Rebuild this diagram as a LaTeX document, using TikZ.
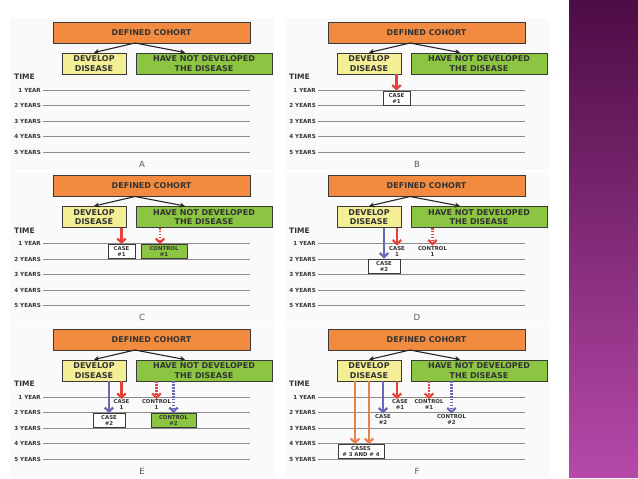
\documentclass[tikz,border=0pt]{standalone}
\usepackage{fontspec}
\setmainfont{DejaVu Sans}
\usepackage{tikz}
\usetikzlibrary{arrows.meta,positioning}
\definecolor{cohortorange}{HTML}{F28B3F}
\definecolor{devyellow}{HTML}{F4EE97}
\definecolor{nodevgreen}{HTML}{8BC541}
\definecolor{boxline}{HTML}{3A3A3A}
\definecolor{txtdark}{HTML}{333333}
\definecolor{linegray}{HTML}{8C8C8C}
\definecolor{panelbg}{HTML}{FAFAFA}
\definecolor{casered}{HTML}{E5403A}
\definecolor{caseblue}{HTML}{6767B4}
\definecolor{caseorange}{HTML}{E8804A}
\definecolor{plumtop}{HTML}{4D0C45}
\definecolor{plumbottom}{HTML}{B649A9}

\tikzset{
  hdrbox/.style={draw=boxline, line width=0.9pt, minimum height=21pt, inner sep=0pt,
    align=center, text=txtdark, font=\bfseries\fontsize{8}{9.5}\selectfont},
  cohortbox/.style={hdrbox, fill=cohortorange, minimum width=197pt},
  devbox/.style={hdrbox, fill=devyellow, minimum width=64pt},
  nodevbox/.style={hdrbox, fill=nodevgreen, minimum width=136pt},
  splitarr/.style={-{Stealth[length=5pt,width=5pt]}, line width=1.1pt, draw=black!85},
  timelbl/.style={anchor=west, inner sep=0pt, text=txtdark, font=\bfseries\fontsize{7.5}{8}\selectfont},
  yearlbl/.style={anchor=east, inner sep=0pt, text=txtdark, font=\bfseries\fontsize{5.6}{6}\selectfont},
  yearline/.style={draw=linegray, line width=0.7pt},
  panelletter/.style={text=black!65, font=\fontsize{8.5}{9}\selectfont},
  smallbox/.style={draw=boxline, line width=0.9pt, inner sep=0pt, minimum height=14pt,
    align=center, text=txtdark, font=\bfseries\fontsize{5.4}{6}\selectfont},
  casebox/.style={smallbox, fill=white},
  controlbox/.style={smallbox, fill=nodevgreen},
  smalllbl/.style={anchor=north, inner sep=0.5pt, align=center, text=txtdark,
    font=\bfseries\fontsize{5.4}{6}\selectfont},
  redarr/.style={-{Straight Barb[length=4pt,width=8.5pt]}, line width=2.2pt, draw=casered},
  bluearr/.style={redarr, draw=caseblue},
  orangearr/.style={redarr, draw=caseorange},
  dotarr/.style={dash pattern=on 1.6pt off 1.3pt}
}

\newcommand{\cohortpanel}[3]{%
\begin{scope}[shift={(#2,#3)}]
  \fill[panelbg] (10,18) rectangle (274,170);
  \node[cohortbox] (#1coh) at (151.5,32.5) {DEFINED COHORT};
  \node[devbox] (#1dev) at (94,63.5) {DEVELOP\\DISEASE};
  \node[nodevbox] (#1hnd) at (204,63.5) {HAVE NOT DEVELOPED\\THE DISEASE};
  \coordinate (#1fork) at (135,43);
  \draw[splitarr] (#1fork) -- (#1dev.north);
  \draw[splitarr] (#1fork) -- ([xshift=-19pt]#1hnd.north);
  \node[timelbl] (#1time) at (14,77) {TIME};
  \foreach \yr/\yrtext [count=\i] in {90/1 YEAR, 105.5/2 YEARS, 121/3 YEARS, 136.5/4 YEARS, 152/5 YEARS} {
    \node[yearlbl] (#1yr\i) at (41,\yr) {\yrtext};
    \draw[yearline] ([xshift=2pt]#1yr\i.east) -- (250,\yr);
  }
  \node[panelletter] (#1letter) at (142,164) {#1};
\end{scope}}

\begin{document}
\begin{tikzpicture}[x=1pt,y=-1pt]
\useasboundingbox (0,0) rectangle (638,479);

\shade[top color=plumtop, bottom color=plumbottom] (569,0) rectangle (638,477);

\cohortpanel{A}{0}{0}
\cohortpanel{B}{275}{0}
\cohortpanel{C}{0}{153.5}
\cohortpanel{D}{275}{153.5}
\cohortpanel{E}{0}{307}
\cohortpanel{F}{275}{307}

% B
\begin{scope}[shift={(275,0)}]
  \node[casebox, minimum width=27pt] (Bcase1) at (121.5,98) {CASE\\\#1};
  \draw[redarr] (Bcase1.north |- Bdev.south) -- (Bcase1.north);
\end{scope}

% C
\begin{scope}[shift={(0,153.5)}]
  \node[casebox, minimum width=27pt] (Ccase1) at (121.5,98) {CASE\\\#1};
  \node[controlbox, minimum width=46pt] (Ccon1) at (164,98) {CONTROL\\\#1};
  \draw[redarr] (Ccase1.north |- Cdev.south) -- (Ccase1.north);
  \draw[redarr, dotarr] ([xshift=-4pt]Ccon1.north |- Chnd.south) -- ([xshift=-4pt]Ccon1.north);
\end{scope}

% D
\begin{scope}[shift={(275,153.5)}]
  \node[smalllbl] (Dc1) at (122,92) {CASE\\1};
  \node[smalllbl] (Dcon1) at (157.5,92) {CONTROL\\1};
  \node[casebox, minimum width=32pt] (Dcase2) at (109,112.5) {CASE\\\#2};
  \draw[bluearr] (Dcase2.north |- Ddev.south) -- (Dcase2.north);
  \draw[redarr] (Dc1.north |- Ddev.south) -- (Dc1.north);
  \draw[redarr, dotarr] (Dcon1.north |- Dhnd.south) -- (Dcon1.north);
\end{scope}

% E
\begin{scope}[shift={(0,307)}]
  \node[smalllbl] (Ec1) at (121.5,92) {CASE\\1};
  \node[smalllbl] (Econ1) at (156.5,92) {CONTROL\\1};
  \node[casebox, minimum width=32pt] (Ecase2) at (109,113.5) {CASE\\\#2};
  \node[controlbox, minimum width=45pt] (Econ2) at (173.5,113.5) {CONTROL\\\#2};
  \draw[bluearr] (Ecase2.north |- Edev.south) -- (Ecase2.north);
  \draw[redarr] (Ec1.north |- Edev.south) -- (Ec1.north);
  \draw[redarr, dotarr] (Econ1.north |- Ehnd.south) -- (Econ1.north);
  \draw[bluearr, dotarr] (Econ2.north |- Ehnd.south) -- (Econ2.north);
\end{scope}

% F
\begin{scope}[shift={(275,307)}]
  \node[smalllbl] (Fc1) at (125,92) {CASE\\\#1};
  \node[smalllbl] (Fcon1) at (154,92) {CONTROL\\\#1};
  \node[smalllbl] (Fc2) at (108,106.5) {CASE\\\#2};
  \node[smalllbl] (Fcon2) at (176.5,106.5) {CONTROL\\\#2};
  \node[casebox, minimum width=46pt] (Fcases) at (86,144.5) {CASES\\\# 3 AND \# 4};
  \draw[orangearr] ([xshift=-6pt]Fcases.north |- Fdev.south) -- ([xshift=-6pt]Fcases.north);
  \draw[orangearr] ([xshift=8pt]Fcases.north |- Fdev.south) -- ([xshift=8pt]Fcases.north);
  \draw[bluearr] (Fc2.north |- Fdev.south) -- (Fc2.north);
  \draw[redarr] ([xshift=-3pt]Fc1.north |- Fdev.south) -- ([xshift=-3pt]Fc1.north);
  \draw[redarr, dotarr] (Fcon1.north |- Fhnd.south) -- (Fcon1.north);
  \draw[bluearr, dotarr] (Fcon2.north |- Fhnd.south) -- (Fcon2.north);
\end{scope}
\end{tikzpicture}
\end{document}
